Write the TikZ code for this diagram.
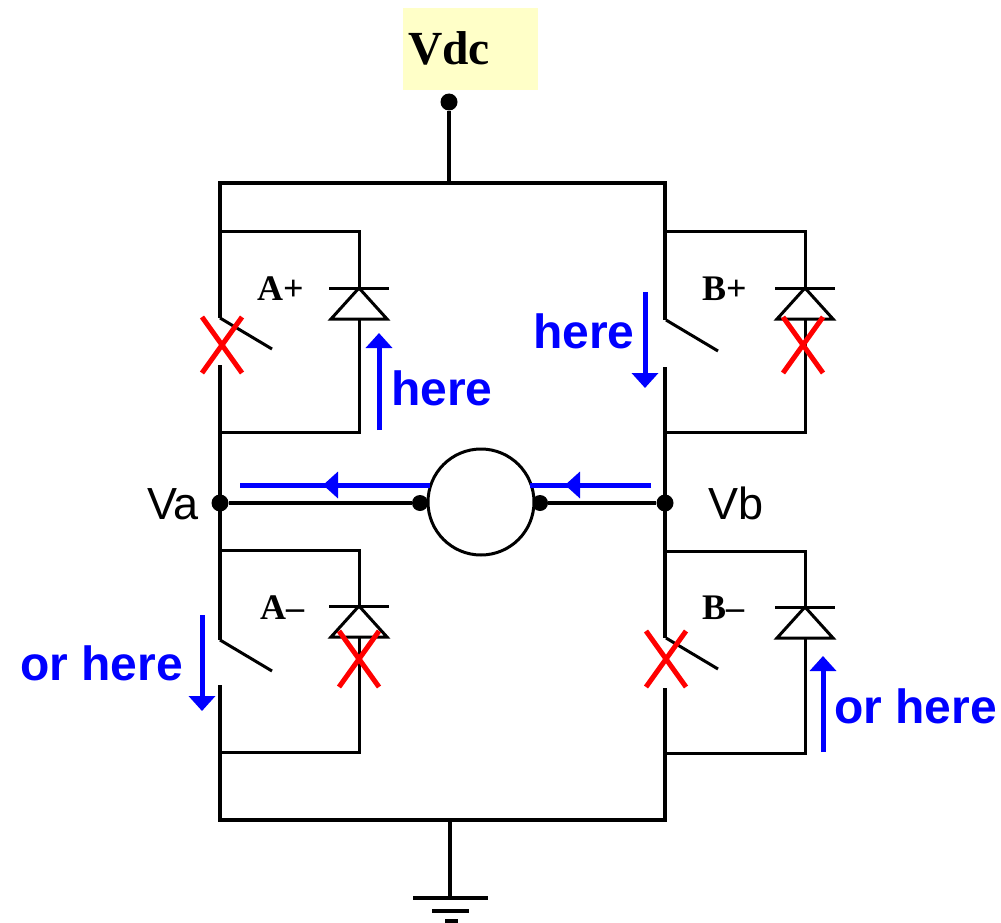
\documentclass[tikz,border=0pt]{standalone}
\usepackage{fontspec}
\setmainfont{Liberation Serif}
\setsansfont{Liberation Sans}
\usetikzlibrary{arrows.meta}
\definecolor{vdcfill}{RGB}{255,255,200}
\tikzset{
  wire/.style={line width=3.4pt, black},
  thinwire/.style={line width=3pt, black},
  cross/.style={line width=5pt, red},
  flow/.style={line width=5pt, blue, -{Triangle[width=26pt,length=15pt]}},
  flowline/.style={line width=5pt, blue},
  dot/.style={circle, fill=black, inner sep=0pt, minimum size=17pt},
  flowlabel/.style={anchor=base west, inner sep=0pt, text=blue, font=\sffamily\bfseries\fontsize{48}{50}\selectfont},
  swlabel/.style={anchor=base west, inner sep=0pt, font=\bfseries\fontsize{36}{38}\selectfont},
  vlabel/.style={anchor=base west, inner sep=0pt, font=\sffamily\fontsize{45}{47}\selectfont},
}
\begin{document}
\begin{tikzpicture}[x=1pt, y=-1pt]
  \useasboundingbox (0,0) rectangle (1001,923);
  % supply
  \node[fill=vdcfill, minimum width=135pt, minimum height=82pt, inner sep=0pt] (vdcbox) at (470.5,49) {};
  \node[anchor=base west, inner sep=0pt, font=\bfseries\fontsize{47.5}{50}\selectfont] (vdc) at (408,65) {Vdc};
  \node[dot] (top) at (449,102) {};
  \coordinate (railtop) at (449,183);
  \coordinate (railbot) at (450,820);
  \coordinate (tl) at (220,183);
  \coordinate (tr) at (665,183);
  \coordinate (bl) at (220,820);
  \coordinate (br) at (665,820);
  \draw[wire] (top) -- (railtop);
  \draw[wire, line cap=rect] (tl) -- (tr);
  \draw[wire, line cap=rect] (bl) -- (br);

  % the four legs: name/x of switch/y of top/y of bar/y of arm/y of lower contact/y of bottom
  \foreach \leg/\x/\ytop/\ybar/\yarm/\ylow/\ybot in {ap/220/231/288/318/365/432, bp/666/231/288/320/367/432, an/220/550/606/640/685/752, bn/666/551/607/638/688/753} {
    \coordinate (\leg top) at (\x,\ytop);
    \coordinate (\leg rt) at (\x+139,\ytop);
    \coordinate (\leg k) at (\x+139,\ybar);
    \coordinate (\leg kl) at (\x+109,\ybar);
    \coordinate (\leg kr) at (\x+169,\ybar);
    \coordinate (\leg al) at (\x+111,\ybar+31);
    \coordinate (\leg ar) at (\x+167,\ybar+31);
    \coordinate (\leg a) at (\x+139,\ybar+31);
    \coordinate (\leg rb) at (\x+139,\ybot);
    \coordinate (\leg bot) at (\x,\ybot);
    \coordinate (\leg sw) at (\x,\yarm);
    \coordinate (\leg tip) at (\x+52,\yarm+31);
    \coordinate (\leg low) at (\x,\ylow);
    \draw[thinwire] (\leg top) -- (\leg rt) -- (\leg k);
    \draw[thinwire] (\leg kl) -- (\leg kr);
    \draw[thinwire, line join=miter] (\leg k) -- (\leg ar) -- (\leg al) -- cycle;
    \draw[thinwire] (\leg a) -- (\leg rb) -- (\leg bot);
    \draw[thinwire] (\leg sw) -- (\leg tip);
  };

  % the two vertical bars of the bridge
  \draw[wire] (tl) -- (apsw);
  \draw[wire] (aplow) -- (answ);
  \draw[wire] (anlow) -- (bl);
  \draw[wire] (tr) -- (tr |- bpsw);
  \draw[wire] (bplow -| tr) -- (bnsw -| tr);
  \draw[wire] (bnlow -| tr) -- (br);

  % load
  \node[dot] (va) at (220,503) {};
  \node[dot] (vb) at (665,503) {};
  \node[dot, minimum size=16pt] (ml) at (420,503) {};
  \node[dot, minimum size=16pt] (mr) at (540,503) {};
  \draw[wire] (va) -- (ml);
  \draw[wire] (mr) -- (vb);
  \node[circle, draw, line width=3pt, fill=white, minimum size=106pt, inner sep=0pt] (motor) at (481,502) {};
  \node[vlabel] (valabel) at (147,519) {Va};
  \node[vlabel] (vblabel) at (708,519) {Vb};

  % switch names
  \node[swlabel] (aplabel) at (257,300) {A+};
  \node[swlabel] (bplabel) at (702,300) {B+};
  \node[swlabel] (anlabel) at (260,619) {A--};
  \node[swlabel] (bnlabel) at (702,619) {B--};

  % ground
  \coordinate (gnd) at (450,898);
  \draw[wire] (railbot) -- (gnd);
  \draw[wire] (413,898) -- (488,898);
  \draw[wire] (432,911) -- (469,911);
  \draw[wire] (445,921) -- (458,921);

  % blocked paths
  \foreach \cx/\cy in {222/345, 803/345, 359/659, 666/659} {
    \draw[cross] (\cx-20,\cy-28) -- (\cx+20,\cy+28);
    \draw[cross] (\cx+20,\cy-28) -- (\cx-20,\cy+28);
  };

  % current paths
  \draw[flow] (379,430) -- (379,333);
  \draw[flow] (645,292) -- (645,388);
  \draw[flow] (202,615) -- (202,711);
  \draw[flow] (823,752) -- (823,656);
  \draw[flow] (430,485) -- (323,485);
  \draw[flowline] (330,485) -- (240,485);
  \draw[flow] (651,485) -- (565,485);
  \draw[flowline] (572,485) -- (530,485);
  \node[flowlabel] (herea) at (391,405) {here};
  \node[flowlabel] (hereb) at (533,348) {here};
  \node[flowlabel] (orherea) at (20,680) {or here};
  \node[flowlabel] (orhereb) at (834,723) {or here};
\end{tikzpicture}
\end{document}
